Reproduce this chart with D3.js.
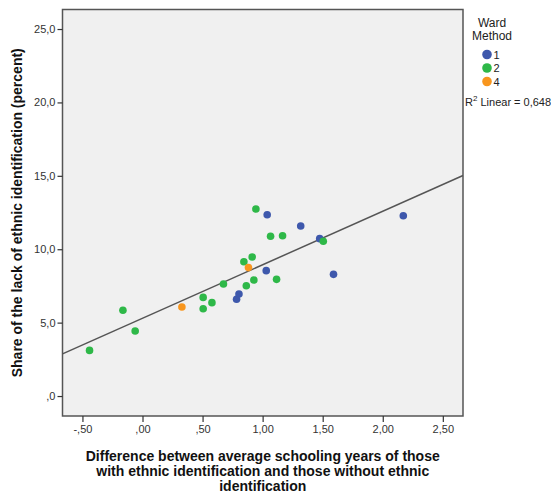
<!DOCTYPE html>
<html>
<head>
<meta charset="utf-8">
<script src="https://cdn.jsdelivr.net/npm/d3@7"></script>
<style>
  body { margin: 0; background: #fff; }
  text { font-family: "Liberation Sans", Arial, sans-serif; }
</style>
</head>
<body>
<div id="chart"></div>
<script>
// schooling-years difference (x) vs share lacking ethnic identification (y), by Ward cluster
let cluster1X = [0.783, 0.803, 1.038, 1.030, 1.317, 1.475, 1.590, 2.171]
let cluster1Y = [6.59, 6.95, 12.35, 8.54, 11.58, 10.72, 8.29, 12.28]

let cluster2X = [-0.441, -0.163, -0.061, 0.505, 0.505, 0.578, 0.674, 0.864,
                 0.844, 0.913, 0.927, 0.944, 1.066, 1.166, 1.116, 1.505]
let cluster2Y = [3.11, 5.84, 4.43, 6.72, 5.95, 6.36, 7.63, 7.51,
                 9.15, 9.47, 7.90, 12.74, 10.88, 10.92, 7.95, 10.54]

let cluster4X = [0.328, 0.882]
let cluster4Y = [6.06, 8.75]

let groups = ["1", "2", "4"]
let groupColors = ["#3e58ac", "#2eb848", "#f8961e"]

let xTicks = [-0.5, 0, 0.5, 1, 1.5, 2, 2.5]
let xTickLabels = ["-,50", ",00", ",50", "1,00", "1,50", "2,00", "2,50"]
let yTicks = [0, 5, 10, 15, 20, 25]
let yTickLabels = [",0", "5,0", "10,0", "15,0", "20,0", "25,0"]

let r2Label = "0,648"

let margin = {top: 9.5, right: 88, bottom: 77, left: 62.5},
    width = 551 - margin.left - margin.right,
    height = 493 - margin.top - margin.bottom;

let points = []
;[[cluster1X, cluster1Y, "1"], [cluster2X, cluster2Y, "2"], [cluster4X, cluster4Y, "4"]].forEach(g => {
  g[0].forEach((v, i) => points.push({x: v, y: g[1][i], group: g[2]}))
})

let color = d3.scaleOrdinal().domain(groups).range(groupColors)

let x = d3.scaleLinear().domain([-0.666, 2.668]).range([0, width]);
let y = d3.scaleLinear().domain([-1.36, 26.33]).range([height, 0]);

// least squares fit over all points
let mx = d3.mean(points, d => d.x), my = d3.mean(points, d => d.y)
let slope = d3.sum(points, d => (d.x - mx) * (d.y - my)) / d3.sum(points, d => (d.x - mx) ** 2)
let intercept = my - slope * mx

let svg = d3.select('#chart').append('svg')
    .attr("width", 551)
    .attr("height", 493)

let g = svg.append("g")
    .attr("transform", "translate(" + margin.left + "," + margin.top + ")");

g.append("rect")
    .attr("width", width)
    .attr("height", height)
    .attr("fill", "#f0f0f0")

g.append("path")
    .datum(x.domain())
    .attr("fill", "none")
    .attr("stroke", "#555")
    .attr("stroke-width", 1.5)
    .attr("d", d3.line().x(d => x(d)).y(d => y(intercept + slope * d)))

g.selectAll("circle.pt")
    .data(points)
  .enter().append("circle")
    .attr("class", "pt")
    .attr("cx", d => x(d.x))
    .attr("cy", d => y(d.y))
    .attr("r", 3.8)
    .attr("fill", d => color(d.group))

// frame
g.append("rect")
    .attr("width", width)
    .attr("height", height)
    .attr("fill", "none")
    .attr("stroke", "#555")
    .attr("stroke-width", 1.5)

let xAxis = g.append("g")
    .attr("transform", "translate(0," + height + ")")
    .call(d3.axisBottom(x).tickValues(xTicks).tickSize(6).tickPadding(3)
      .tickFormat((d, i) => xTickLabels[i]))

let yAxis = g.append("g")
    .call(d3.axisLeft(y).tickValues(yTicks).tickSize(5).tickPadding(2)
      .tickFormat((d, i) => yTickLabels[i]))

;[xAxis, yAxis].forEach(a => {
  a.select(".domain").remove()
  a.selectAll(".tick line").attr("stroke", "#333").attr("stroke-width", 1.2)
  a.selectAll(".tick text").attr("fill", "#333")
    .style("font-family", "'Liberation Sans', Arial, sans-serif").style("font-size", "11px")
})

// axis titles
svg.append("text")
    .attr("transform", "translate(22," + (margin.top + height / 2) + ") rotate(-90)")
    .attr("text-anchor", "middle")
    .attr("font-size", 14)
    .attr("font-weight", "bold")
    .attr("fill", "#111")
    .text("Share of the lack of ethnic identification (percent)")

let xTitle = ["Difference between average schooling years of those",
              "with ethnic identification and those without ethnic",
              "identification"]
svg.append("g").selectAll("text")
    .data(xTitle)
  .enter().append("text")
    .attr("x", margin.left + width / 2)
    .attr("y", (d, i) => 461 + i * 15)
    .attr("text-anchor", "middle")
    .attr("font-size", 14)
    .attr("font-weight", "bold")
    .attr("fill", "#111")
    .text(d => d)

// legend
let legend = svg.append("g")
legend.selectAll("text.title")
    .data(["Ward", "Method"])
  .enter().append("text")
    .attr("class", "title")
    .attr("x", 492)
    .attr("y", (d, i) => 27 + i * 12.5)
    .attr("text-anchor", "middle")
    .attr("font-size", 12)
    .attr("fill", "#222")
    .text(d => d)

let items = legend.selectAll("g.item")
    .data(groups)
  .enter().append("g")
    .attr("class", "item")
    .attr("transform", (d, i) => "translate(487," + (54.5 + i * 13.5) + ")")
items.append("circle")
    .attr("r", 4.8)
    .attr("fill", d => color(d))
items.append("text")
    .attr("x", 6.5)
    .attr("y", 4)
    .attr("font-size", 11)
    .attr("fill", "#222")
    .text(d => d)

let r2 = svg.append("text")
    .attr("x", 465)
    .attr("y", 106)
    .attr("font-size", 11)
    .attr("fill", "#222")
r2.append("tspan").text("R")
r2.append("tspan").attr("font-size", 8).attr("dy", -5).text("2")
r2.append("tspan").attr("dy", 5).text(" Linear = " + r2Label)
</script>
</body>
</html>
